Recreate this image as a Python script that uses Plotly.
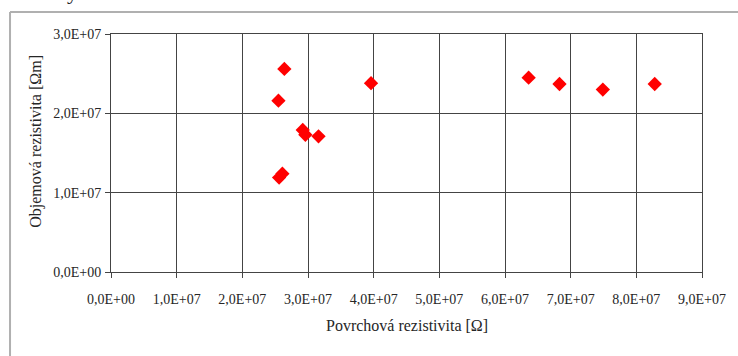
import plotly.graph_objects as go

# Data
povrchova = [2.64e7, 2.55e7, 3.96e7, 2.92e7, 2.96e7, 3.16e7, 2.56e7, 2.61e7,
             6.36e7, 6.83e7, 7.49e7, 8.28e7]
objemova = [2.56e7, 2.16e7, 2.38e7, 1.79e7, 1.73e7, 1.71e7, 1.19e7, 1.24e7,
            2.45e7, 2.37e7, 2.30e7, 2.37e7]

x_tickvals = [i * 1e7 for i in range(10)]
x_ticktext = ["0,0E+00"] + [f"{i},0E+07" for i in range(1, 10)]
y_tickvals = [0, 1e7, 2e7, 3e7]
y_ticktext = ["0,0E+00", "1,0E+07", "2,0E+07", "3,0E+07"]

x_title = "Povrchová rezistivita [Ω]"
y_title = "Objemová rezistivita [Ωm]"

W, H = 738, 356
L, R, T, B = 111, 30, 34, 84
pw, ph = W - L - R, H - T - B

def px_x(p):
    return (p - L) / pw

def px_y(p):
    return 1 - (p - T) / ph

FONT = "Liberation Serif"
GRID = "#444444"
TXT = "#262626"

fig = go.Figure()
fig.add_trace(go.Scatter(
    x=povrchova, y=objemova, mode="markers",
    marker=dict(symbol="diamond", size=11, color="#ff0000",
                line=dict(width=0)),
    showlegend=False,
))

fig.update_layout(
    width=W, height=H,
    margin=dict(l=L, r=R, t=T, b=B),
    paper_bgcolor="white", plot_bgcolor="white",
    font=dict(family=FONT, color=TXT),
    xaxis=dict(
        range=[0, 9e7], tickvals=x_tickvals, ticktext=x_ticktext,
        showgrid=True, gridcolor=GRID, gridwidth=1,
        showline=True, linecolor=GRID, linewidth=1, mirror=True,
        ticks="outside", ticklen=5, tickcolor=GRID,
        tickfont=dict(family=FONT, size=14, color=TXT),
        ticklabelstandoff=9, zeroline=False,
    ),
    yaxis=dict(
        range=[0, 3e7], tickvals=y_tickvals, ticktext=y_ticktext,
        showgrid=True, gridcolor=GRID, gridwidth=1,
        showline=True, linecolor=GRID, linewidth=1, mirror=True,
        ticks="outside", ticklen=5, tickcolor=GRID,
        tickfont=dict(family=FONT, size=14, color=TXT),
        ticklabelstandoff=1, zeroline=False,
    ),
    annotations=[
        dict(text=x_title, xref="paper", yref="paper",
             x=px_x(410), y=px_y(325), xanchor="center", yanchor="middle",
             showarrow=False, font=dict(family=FONT, size=16, color=TXT)),
        dict(text=y_title, xref="paper", yref="paper",
             x=px_x(35), y=px_y(141), xanchor="center", yanchor="middle",
             textangle=-90, showarrow=False,
             font=dict(family=FONT, size=16, color=TXT)),
        dict(text="y", xref="paper", yref="paper",
             x=px_x(72), y=px_y(6), xanchor="center", yanchor="bottom",
             showarrow=False, font=dict(family=FONT, size=22, color="#222222")),
    ],
    shapes=[
        dict(type="line", xref="paper", yref="paper",
             x0=px_x(9), x1=px_x(745), y0=px_y(12), y1=px_y(12),
             line=dict(color="#b0b0b0", width=2)),
        dict(type="line", xref="paper", yref="paper",
             x0=px_x(9), x1=px_x(9), y0=px_y(12), y1=px_y(365),
             line=dict(color="#b0b0b0", width=2)),
    ],
)

fig.write_html("out.html")
